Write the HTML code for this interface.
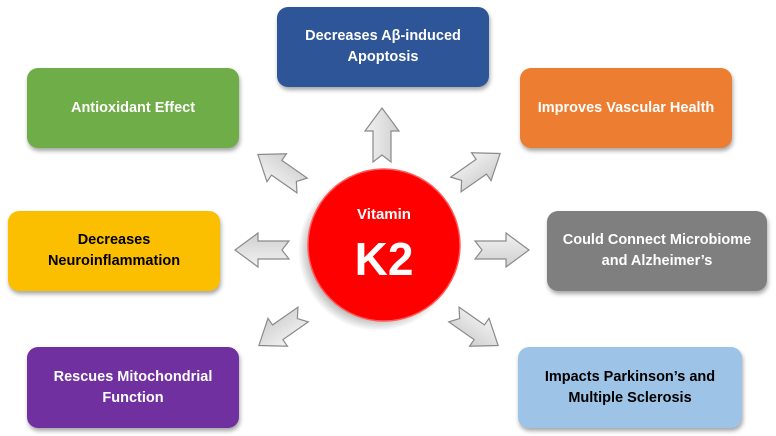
<!DOCTYPE html>
<html><head><meta charset="utf-8"><style>
body{margin:0;width:776px;height:436px;background:#fff;overflow:hidden;position:relative;font-family:"Liberation Sans",sans-serif}
.b{position:absolute;border-radius:11px;display:flex;align-items:center;justify-content:center;text-align:center;font-weight:bold;font-size:14.5px;line-height:21px;color:#fff;box-shadow:1px 3px 4px rgba(0,0,0,.35);box-sizing:border-box}
svg{position:absolute;left:0;top:0}
</style></head><body>
<svg width="776" height="436">
<defs>
<linearGradient id="g" x1="0" y1="0" x2="0" y2="1"><stop offset="0" stop-color="#f2f2f2"/><stop offset="1" stop-color="#cfcfcf"/></linearGradient>
<radialGradient id="sh" cx="0.5" cy="0.5" r="0.5"><stop offset="0.8" stop-color="rgba(0,0,0,0.35)"/><stop offset="1" stop-color="rgba(0,0,0,0)"/></radialGradient>
<polygon id="a" points="-27,-9 4,-9 4,-17 27,0 4,17 4,9 -27,9 -20,0" fill="url(#g)" stroke="#8a8a8a" stroke-width="1.2"/>
</defs>
<use href="#a" transform="translate(382,135) rotate(-90)"/>
<use href="#a" transform="translate(280,170) rotate(-145)"/>
<use href="#a" transform="translate(478,169) rotate(-35)"/>
<use href="#a" transform="translate(262,250) rotate(180)"/>
<use href="#a" transform="translate(502,250)"/>
<use href="#a" transform="translate(281,330) rotate(145)"/>
<use href="#a" transform="translate(476,330) rotate(35)"/>
<circle cx="378" cy="251" r="80" fill="url(#sh)"/>
<circle cx="384" cy="245" r="76" fill="#fe0000" stroke="#ff5a5a" stroke-width="1.5"/>
<text x="384" y="219" text-anchor="middle" fill="#fff" font-weight="bold" font-size="15" font-family="Liberation Sans,sans-serif">Vitamin</text>
<text x="384" y="275" text-anchor="middle" fill="#fff" font-weight="bold" font-size="46" font-family="Liberation Sans,sans-serif">K2</text>
</svg>
<div class="b" style="left:277px;top:7px;width:212px;height:80px;background:#2e5597">Decreases Aβ-induced<br>Apoptosis</div>
<div class="b" style="left:27px;top:68px;width:212px;height:80px;background:#6ead47">Antioxidant Effect</div>
<div class="b" style="left:520px;top:68px;width:212px;height:80px;background:#ed7d31">Improves Vascular Health</div>
<div class="b" style="left:8px;top:211px;width:212px;height:80px;background:#fcbf00;color:#000">Decreases<br>Neuroinflammation</div>
<div class="b" style="left:547px;top:211px;width:220px;height:80px;background:#7f7f7f">Could Connect Microbiome<br>and Alzheimer’s</div>
<div class="b" style="left:27px;top:347px;width:212px;height:81px;background:#7030a0">Rescues Mitochondrial<br>Function</div>
<div class="b" style="left:518px;top:347px;width:224px;height:81px;background:#9dc3e6;color:#000">Impacts Parkinson’s and<br>Multiple Sclerosis</div>
</body></html>
